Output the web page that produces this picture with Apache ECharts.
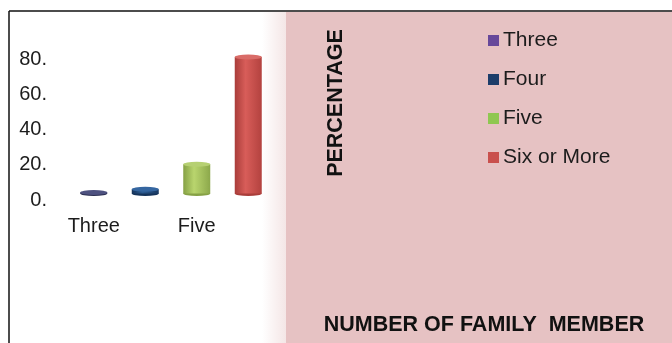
<!DOCTYPE html>
<html>
<head>
<meta charset="utf-8">
<script src="https://cdn.jsdelivr.net/npm/echarts@6/dist/echarts.min.js"></script>
<style>
  html, body { margin: 0; padding: 0; background: #fff; }
  #chart { width: 672px; height: 343px; }
</style>
</head>
<body>
<div id="chart"></div>
<script>
const categories = ['Three', 'Four', 'Five', 'Six or More'];
const values = [0.6, 2.4, 16.6, 77.4];
const yTicks = [0, 20, 40, 60, 80];

// body shading (edge, highlight, edge) and cap colour per category
const bodyColors = [
  ['#2a2d50', '#4c5078', '#2e3156'],
  ['#15335a', '#2c5b91', '#183861'],
  ['#86a145', '#b9d56e', '#8ca84b'],
  ['#a93d3a', '#d85d59', '#b3423f']
];
const capColors = ['#4e5280', '#3566a0', '#b6d072', '#d96c68'];
const legendColors = ['#67489a', '#1d3d6a', '#8fc751', '#c9504d'];

const font = "'Liberation Sans', Arial, sans-serif";

function bodyGradient(c) {
  return new echarts.graphic.LinearGradient(0, 0, 1, 0, [
    { offset: 0, color: c[0] },
    { offset: 0.4, color: c[1] },
    { offset: 1, color: c[2] }
  ]);
}

const barSeries = categories.map((name, i) => ({
  name: name,
  type: 'bar',
  stack: 'cyl',
  barWidth: 27,
  z: 3,
  itemStyle: { color: bodyGradient(bodyColors[i]) },
  data: values.map((v, j) => (j === i ? v : '-'))
}));

const chart = echarts.init(document.getElementById('chart'));

chart.setOption({
  animation: false,
  backgroundColor: '#ffffff',
  grid: [
    { left: 68, right: 398, top: 52.5, bottom: 149.5 },
    // labels of the value axis sit a little lower than the 3D floor
    { left: 68, right: 398, top: 59, bottom: 143 }
  ],
  legend: {
    orient: 'vertical',
    left: 488,
    top: 30,
    padding: 0,
    itemWidth: 11,
    itemHeight: 11,
    itemGap: 18,
    icon: 'rect',
    textStyle: { fontFamily: font, fontSize: 21, color: '#1c1c1c', padding: [0, 0, 0, -1] },
    data: categories.map((name, i) => ({ name: name, itemStyle: { color: legendColors[i] } }))
  },
  xAxis: [
    {
      type: 'category',
      data: categories,
      axisLine: { show: false },
      axisTick: { show: false },
      axisLabel: {
        interval: 1,
        margin: 23,
        fontFamily: font,
        fontSize: 20,
        color: '#1c1c1c'
      }
    },
    { type: 'category', gridIndex: 1, data: categories, show: false }
  ],
  yAxis: [
    {
      type: 'value',
      min: 0,
      max: 80,
      interval: 20,
      splitLine: { show: false },
      axisLine: { show: false },
      axisTick: { show: false },
      axisLabel: { show: false }
    },
    {
      type: 'value',
      gridIndex: 1,
      min: 0,
      max: 80,
      interval: 20,
      splitLine: { show: false },
      axisLine: { show: false },
      axisTick: { show: false },
      axisLabel: {
        margin: 21,
        fontFamily: font,
        fontSize: 20,
        color: '#1c1c1c',
        formatter: v => (yTicks.includes(v) ? v + '.' : '')
      }
    }
  ],
  graphic: [
    { type: 'rect', z: 0, shape: { x: 262, y: 12, width: 24, height: 331 },
      style: { fill: new echarts.graphic.LinearGradient(0, 0, 1, 0, [
        { offset: 0, color: '#ffffff' }, { offset: 1, color: '#f4e6e6' }]) } },
    { type: 'rect', z: 0, shape: { x: 286, y: 12, width: 386, height: 331 },
      style: { fill: '#e6c2c3' } },
    { type: 'line', z: 5, shape: { x1: 9, y1: 11, x2: 672, y2: 11 },
      style: { stroke: '#111', lineWidth: 1.5 } },
    { type: 'line', z: 5, shape: { x1: 9, y1: 11, x2: 9, y2: 343 },
      style: { stroke: '#111', lineWidth: 1.5 } },
    { type: 'text', z: 10, x: 336, y: 103, rotation: Math.PI / 2,
      style: { text: 'PERCENTAGE', fontFamily: font, fontWeight: 'bold', fontSize: 21.5,
        fill: '#111', align: 'center', verticalAlign: 'middle' } },
    { type: 'text', z: 10, x: 484, y: 325,
      style: { text: 'NUMBER OF FAMILY  MEMBER', fontFamily: font, fontWeight: 'bold', fontSize: 21.5,
        fill: '#111', align: 'center', verticalAlign: 'middle' } }
  ],
  series: [
    ...barSeries,
    {
      name: 'bottom',
      type: 'pictorialBar',
      symbol: 'circle',
      symbolSize: [27, 5],
      symbolPosition: 'start',
      symbolOffset: [0, '50%'],
      barGap: '-100%',
      z: 2,
      data: values.map((v, i) => ({ value: v, itemStyle: { color: bodyColors[i][0] } }))
    },
    {
      name: 'top',
      type: 'pictorialBar',
      symbol: 'circle',
      symbolSize: [27, 5],
      symbolPosition: 'end',
      symbolOffset: [0, '-50%'],
      barGap: '-100%',
      z: 4,
      data: values.map((v, i) => ({ value: v, itemStyle: { color: capColors[i] } }))
    }
  ]
});

window.addEventListener('resize', () => {
  chart.resize();
});
</script>
</body>
</html>
